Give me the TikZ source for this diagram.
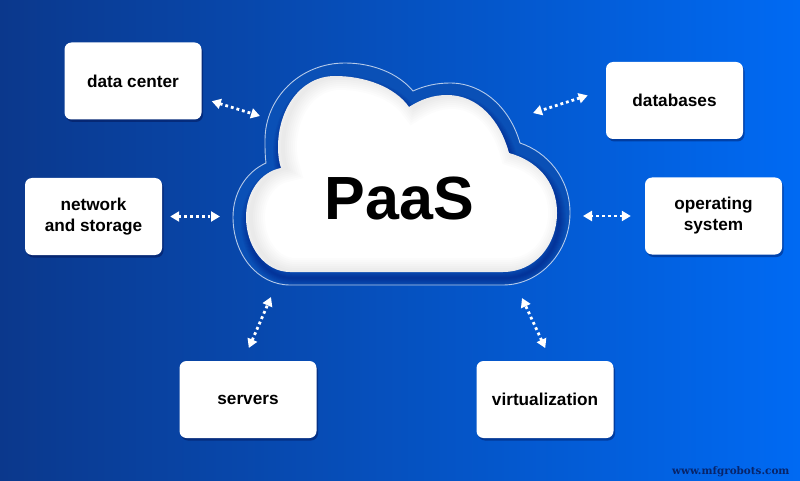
\documentclass[tikz,border=0pt]{standalone}
\usepackage{fontspec}
\setmainfont{Liberation Sans}
\newfontfamily\markfont{DejaVu Serif}
\usetikzlibrary{arrows.meta,shadows}

\definecolor{bgleft}{RGB}{11,56,140}
\definecolor{bgmid}{RGB}{7,80,188}
\definecolor{bgright}{RGB}{0,106,243}
\definecolor{ringblue}{RGB}{10,80,182}
\definecolor{markblue}{RGB}{8,36,105}

\tikzset{
	box/.style={rectangle,rounded corners=7pt,fill=white,minimum width=137pt,minimum height=77pt,inner sep=0pt,align=center,
		font=\fontsize{17.2}{21}\selectfont\bfseries,drop shadow={shadow xshift=1.5pt,shadow yshift=-2.5pt,fill=black!80!blue,opacity=.35}},
	link/.style={white,line width=2.8pt,dash pattern=on 2.8pt off 3pt,{Triangle[length=9pt,width=10pt]}-{Triangle[length=9pt,width=10pt]}}
}

\newcommand{\cloudpath}{(290,272) -- (503,272)
	.. controls (535,272) and (557,245) .. (557,213)
	.. controls (557,180) and (535,160) .. (509,153)
	.. controls (500,120) and (478,95) .. (447,95)
	.. controls (432,95) and (420,100) .. (409,107)
	.. controls (395,87) and (365,76) .. (335,76)
	.. controls (300,76) and (278,110) .. (278,147)
	.. controls (278,155) and (279,162) .. (281,168)
	.. controls (260,172) and (246,193) .. (246,217)
	.. controls (246,247) and (265,272) .. (290,272) -- cycle}
\newcommand{\ringpath}{(290,285) -- (503,285)
	.. controls (540,285) and (570,252) .. (570,213)
	.. controls (570,178) and (547,152) .. (520,143)
	.. controls (510,108) and (483,83) .. (450,83)
	.. controls (436,83) and (424,86) .. (413,91)
	.. controls (398,73) and (372,63) .. (345,63)
	.. controls (300,63) and (265,98) .. (265,140)
	.. controls (265,148) and (265,156) .. (266,163)
	.. controls (246,172) and (233,193) .. (233,217)
	.. controls (233,255) and (258,285) .. (290,285) -- cycle}

\begin{document}
\begin{tikzpicture}[x=1pt,y=-1pt]
	\useasboundingbox (0,0) rectangle (800,481);
	\shade [left color=bgleft,middle color=bgmid,right color=bgright] (0,0) rectangle (800,481);

	\fill [ringblue] \ringpath;
	\begin{scope}
		\clip \ringpath;
		\foreach \w in {2,4,...,14}
			\draw [line width=\w pt,black!60!blue,opacity=.05,yshift=-6pt,xshift=2pt] \cloudpath;
	\end{scope}
	\draw [white,opacity=.7,line width=.9pt] \ringpath;
	\fill [white] \cloudpath;
	\begin{scope}
		\clip \cloudpath;
		\foreach \w in {4,8,...,28}
			\draw [line width=\w pt,black,opacity=.012,xshift=5pt] \cloudpath;
	\end{scope}

	\node (paas) at (399.5,199) {\fontsize{61}{61}\selectfont\bfseries PaaS};

	\node (dcbox) [box] at (133,81) {data center};
	\node (dbbox) [box] at (674.5,100.5) {databases};
	\node (nsbox) [box] at (93.5,216.5) {network\\and storage};
	\node (osbox) [box] at (713.5,216) {operating\\system};
	\node (svbox) [box] at (248,399.5) {servers};
	\node (vtbox) [box] at (545,399.5) {virtualization};

	\coordinate (dcend) at (260,116);
	\coordinate (dbend) at (533,113);
	\coordinate (nsend) at (220,216.5);
	\coordinate (osend) at (583,216);
	\coordinate (svend) at (271,297);
	\coordinate (vtend) at (522,298);

	\foreach \boxname/\ang/\gap/\endname in {dcbox/-14/10.5/dcend, dbbox/171/19/dbend, nsbox/0/8/nsend, osbox/180/14/osend, svbox/97/14/svend, vtbox/81/14/vtend}
		\draw [link,shorten <=\gap pt] (\boxname.\ang) -- (\endname);

	\node (site) [text=markblue,anchor=east] at (793,471.5) {\markfont\bfseries\fontsize{10.4}{12}\selectfont www.mfgrobots.com};
\end{tikzpicture}
\end{document}
